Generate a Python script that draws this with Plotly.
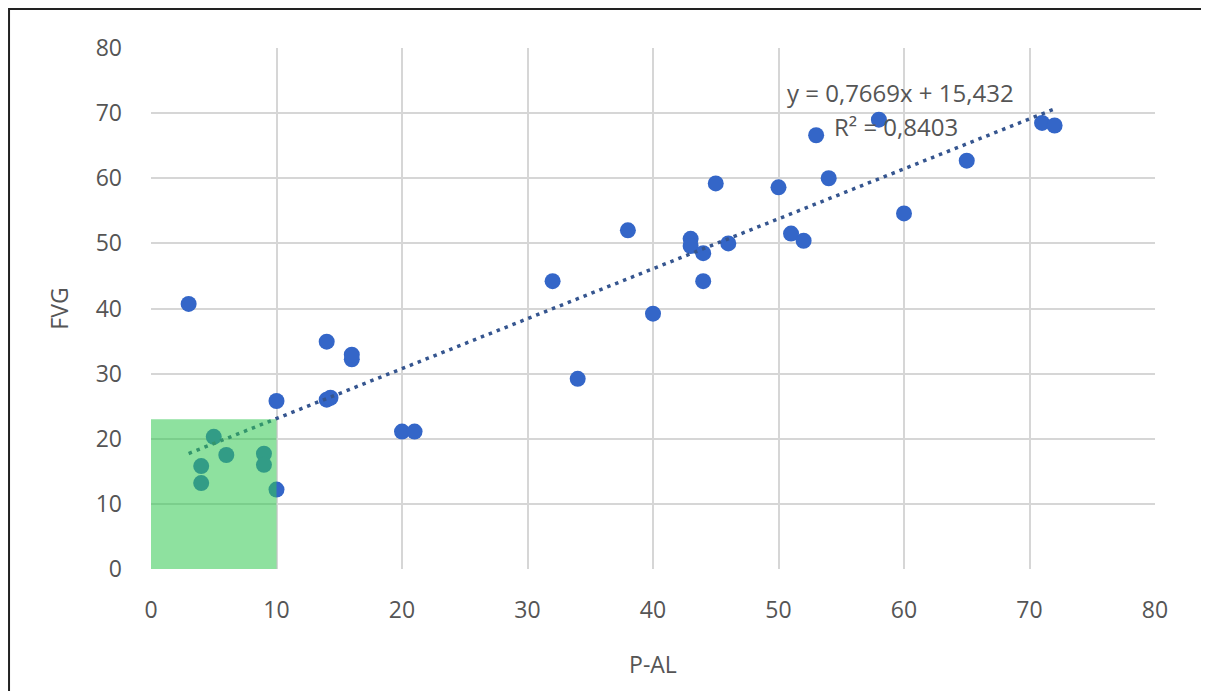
import plotly.graph_objects as go

# Data
p_al = [3, 14, 16, 16, 10, 14, 14.3, 20, 21, 32, 34, 38, 40, 43, 43, 44, 44, 45, 46,
        50, 51, 52, 53, 54, 58, 60, 65, 71, 72,
        5, 4, 4, 6, 9, 9, 10]
fvg = [40.7, 34.9, 32.2, 32.9, 25.8, 26.0, 26.3, 21.1, 21.1, 44.2, 29.2, 52.0, 39.2, 50.7, 49.6, 48.5, 44.2, 59.2, 50.0,
       58.6, 51.5, 50.4, 66.6, 60.0, 69.0, 54.6, 62.7, 68.5, 68.1,
       20.3, 15.8, 13.2, 17.5, 17.7, 16.0, 12.2]

# Trendline as stated on the chart
slope = 0.7669
intercept = 15.432
trend_x = [3, 72]
trend_y = [slope * v + intercept for v in trend_x]

eq_text = "y = 0,7669x + 15,432"
r2_text = "R² = 0,8403"

x_ticks = [0, 10, 20, 30, 40, 50, 60, 70, 80]
y_ticks = [0, 10, 20, 30, 40, 50, 60, 70, 80]

# Highlight box
box_x = [0, 10]
box_y = [0, 23]

FONT = "Open Sans"
GRAY = "#555555"

fig = go.Figure()
fig.add_trace(go.Scatter(
    x=p_al, y=fvg, mode="markers",
    marker=dict(size=16, color="#3466C8", line=dict(width=0)),
    showlegend=False, hoverinfo="x+y"))
fig.add_trace(go.Scatter(
    x=trend_x, y=trend_y, mode="lines",
    line=dict(color="#35558F", width=3.5, dash="3.5px,5px"),
    showlegend=False, hoverinfo="skip"))

fig.add_shape(type="rect", xref="x", yref="y",
              x0=box_x[0], x1=box_x[1], y0=box_y[0], y1=box_y[1],
              fillcolor="rgb(50,200,80)", opacity=0.55,
              line=dict(width=0), layer="above")

# outer frame
fig.add_shape(type="rect", xref="paper", yref="paper",
              x0=-0.1414, x1=1.0508, y0=-0.3, y1=1.0749,
              line=dict(color="#222222", width=2), fillcolor="rgba(0,0,0,0)", layer="below")

fig.add_annotation(x=59.7, y=73.1, xref="x", yref="y", text=eq_text, showarrow=False,
                   font=dict(family=FONT, size=24, color=GRAY))
fig.add_annotation(x=59.4, y=68.0, xref="x", yref="y", text=r2_text, showarrow=False,
                   font=dict(family=FONT, size=24, color=GRAY))

axis_common = dict(
    showgrid=True, gridcolor="#d6d6d6", gridwidth=1.5,
    zeroline=False, showline=False,
    tickfont=dict(family=FONT, size=23, color=GRAY),
    ticks="",
)
fig.update_xaxes(range=[0, 80], tickvals=x_ticks, ticklabelstandoff=25, **axis_common,
                 title=dict(text="P-AL", font=dict(family=FONT, size=23, color=GRAY), standoff=32))
fig.update_yaxes(range=[0, 80], tickvals=y_ticks, ticklabelstandoff=28, **axis_common,
                 title=dict(text="FVG", font=dict(family=FONT, size=23, color=GRAY), standoff=20))

fig.update_layout(
    width=1201, height=683,
    margin=dict(l=143, r=54, t=40, b=122, autoexpand=False),
    plot_bgcolor="white", paper_bgcolor="white",
    showlegend=False,
)

fig.write_html("out.html")
